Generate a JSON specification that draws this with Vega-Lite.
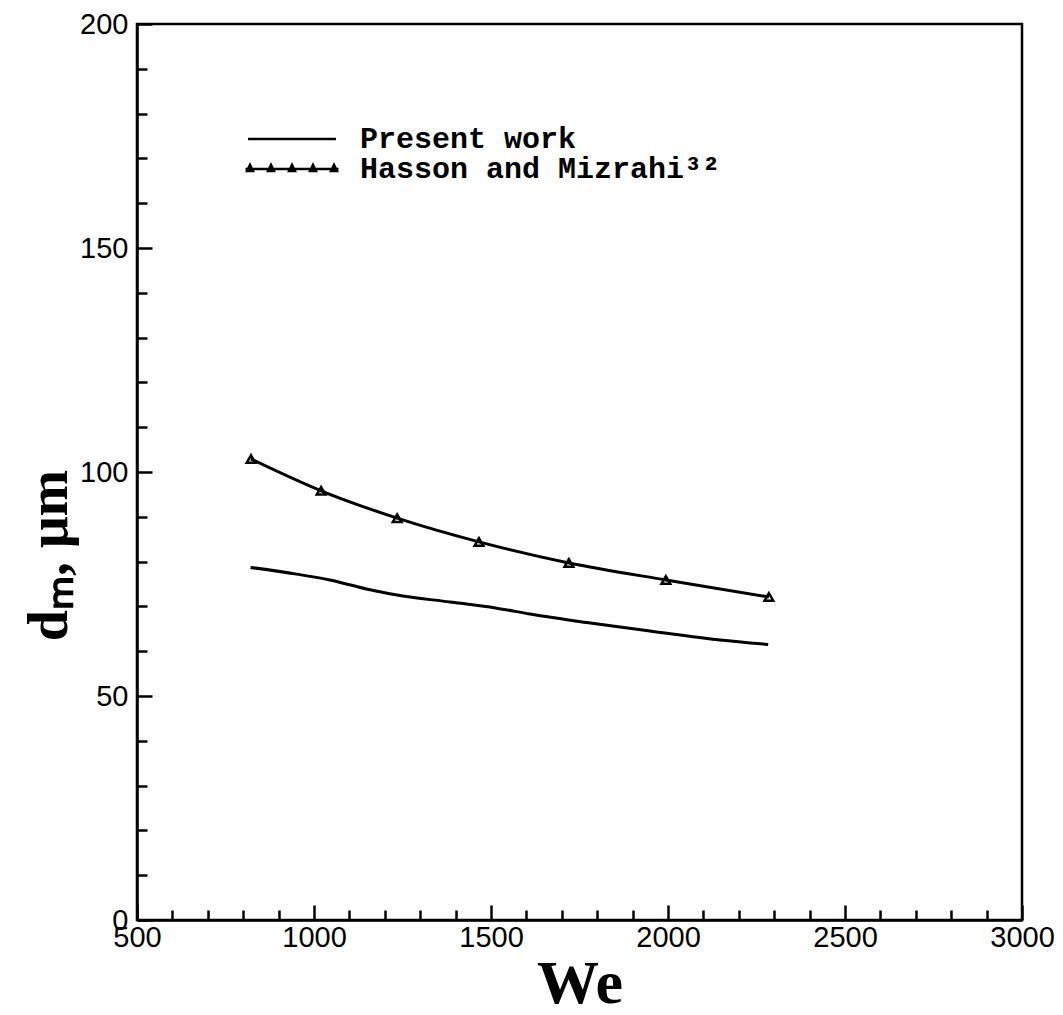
{
  "$schema": "https://vega.github.io/schema/vega-lite/v6.json",
  "width": 885,
  "height": 896,
  "autosize": "none",
  "padding": {"left": 137, "top": 24, "right": 41, "bottom": 95},
  "background": "white",
  "config": {
    "view": {"stroke": "black", "strokeWidth": 2.5},
    "axis": {
      "domainColor": "black",
      "domainWidth": 2.5,
      "tickColor": "black",
      "tickWidth": 2.5,
      "grid": false,
      "labelFont": "Liberation Sans",
      "labelFontSize": 29,
      "labelColor": "black",
      "titleColor": "black"
    }
  },
  "resolve": {"axis": {"x": "independent", "y": "independent"}},
  "data": {
    "values": [
      {"series": "Present work", "We": 821, "dm": 78.7},
      {"series": "Present work", "We": 951, "dm": 77.2},
      {"series": "Present work", "We": 1045, "dm": 75.9},
      {"series": "Present work", "We": 1158, "dm": 73.7},
      {"series": "Present work", "We": 1251, "dm": 72.3},
      {"series": "Present work", "We": 1384, "dm": 71.0},
      {"series": "Present work", "We": 1516, "dm": 69.6},
      {"series": "Present work", "We": 1610, "dm": 68.3},
      {"series": "Present work", "We": 1770, "dm": 66.4},
      {"series": "Present work", "We": 1958, "dm": 64.4},
      {"series": "Present work", "We": 2147, "dm": 62.5},
      {"series": "Present work", "We": 2283, "dm": 61.5},
      {"series": "Hasson and Mizrahi³²", "We": 822, "dm": 102.9},
      {"series": "Hasson and Mizrahi³²", "We": 1020, "dm": 95.8},
      {"series": "Hasson and Mizrahi³²", "We": 1235, "dm": 89.7},
      {"series": "Hasson and Mizrahi³²", "We": 1466, "dm": 84.4},
      {"series": "Hasson and Mizrahi³²", "We": 1720, "dm": 79.7},
      {"series": "Hasson and Mizrahi³²", "We": 1994, "dm": 75.9},
      {"series": "Hasson and Mizrahi³²", "We": 2285, "dm": 72.1}
    ]
  },
  "layer": [
    {
      "mark": {"type": "line", "color": "black", "strokeWidth": 3, "interpolate": "monotone"},
      "encoding": {
        "x": {
          "field": "We", "type": "quantitative",
          "scale": {"domain": [500, 3000], "nice": false, "zero": false},
          "axis": {
            "orient": "bottom",
            "values": [500, 1000, 1500, 2000, 2500, 3000],
            "format": "d",
            "tickSize": -15,
            "labelPadding": 18,
            "labelFlush": false,
            "labelOverlap": false,
            "title": "We",
            "titleFont": "Liberation Serif",
            "titleFontSize": 62,
            "titleFontWeight": "bold",
            "titlePadding": 0,
            "titleY": 82,
            "titleBaseline": "alphabetic"
          }
        },
        "y": {
          "field": "dm", "type": "quantitative",
          "scale": {"domain": [0, 200], "nice": false},
          "axis": {
            "orient": "left",
            "values": [0, 50, 100, 150, 200],
            "format": "d",
            "tickSize": -15,
            "labelPadding": 24,
            "labelFlush": false,
            "labelOverlap": false,
            "title": "dₘ, μm",
            "titleFont": "Liberation Serif",
            "titleFontSize": 56,
            "titleFontWeight": "bold",
            "titleAngle": 270,
            "titleX": -88,
            "titleY": 531,
            "titleAlign": "center",
            "titleBaseline": "middle"
          }
        },
        "detail": {"field": "series", "type": "nominal"}
      }
    },
    {
      "transform": [{"filter": "datum.series != 'Present work'"}],
      "mark": {"type": "point", "shape": "triangle-up", "filled": false, "color": "black", "strokeWidth": 2.5, "size": 75, "opacity": 1},
      "encoding": {
        "x": {
          "field": "We", "type": "quantitative",
          "axis": {
            "orient": "bottom",
            "values": [600, 700, 800, 900, 1100, 1200, 1300, 1400, 1600, 1700, 1800, 1900, 2100, 2200, 2300, 2400, 2600, 2700, 2800, 2900],
            "tickSize": -10, "labels": false, "domain": false, "title": null
          }
        },
        "y": {
          "field": "dm", "type": "quantitative",
          "axis": {
            "orient": "left",
            "values": [10, 20, 30, 40, 60, 70, 80, 90, 110, 120, 130, 140, 160, 170, 180, 190],
            "tickSize": -10, "labels": false, "domain": false, "title": null
          }
        }
      }
    },
    {
      "mark": {"type": "point", "filled": true, "color": "black", "opacity": 0},
      "encoding": {
        "x": {"field": "We", "type": "quantitative", "axis": null},
        "y": {"field": "dm", "type": "quantitative", "axis": null},
        "shape": {
          "field": "series", "type": "nominal",
          "scale": {
            "domain": ["Present work", "Hasson and Mizrahi³²"],
            "range": [
              "M-2.93,-0.09L2.93,-0.09L2.93,0.09L-2.93,0.09Z",
              "M-3.1,-0.09L3.1,-0.09L3.1,0.09L-3.1,0.09ZM-3.13,0.22L-2.8,-0.47L-2.47,0.22ZM-1.73,0.22L-1.4,-0.47L-1.07,0.22ZM-0.33,0.22L0,-0.47L0.33,0.22ZM1.07,0.22L1.4,-0.47L1.73,0.22ZM2.47,0.22L2.8,-0.47L3.13,0.22Z"
            ]
          },
          "legend": {
            "orient": "none",
            "legendX": 140,
            "legendY": 100,
            "title": null,
            "labelFont": "Liberation Mono",
            "labelFontSize": 30,
            "labelFontWeight": "bold",
            "labelColor": "black",
            "labelOffset": 53,
            "labelLimit": 0,
            "symbolSize": 900,
            "symbolOpacity": 1,
            "symbolFillColor": "black",
            "symbolStrokeColor": "black",
            "symbolStrokeWidth": 0,
            "rowPadding": -9,
            "encode": {
              "symbols": {
                "update": {
                  "fill": {"value": "black"},
                  "fillOpacity": {"value": 1},
                  "opacity": {"value": 1}
                }
              }
            }
          }
        }
      }
    }
  ]
}
